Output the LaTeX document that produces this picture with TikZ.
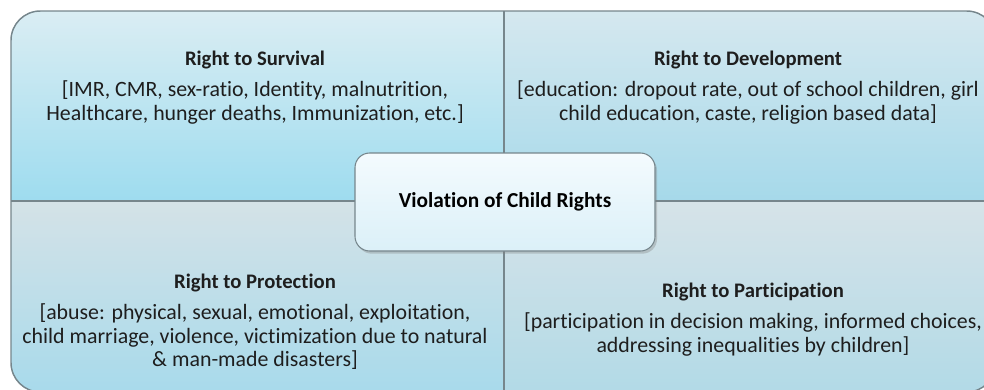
\documentclass[tikz,border=0pt]{standalone}
\usepackage{fontspec}
\setmainfont{Carlito}[Ligatures=NoCommon]
\usetikzlibrary{positioning,shadows}

\definecolor{rimgrey}{HTML}{76868C}
\definecolor{textdark}{HTML}{1E1E1E}
\definecolor{survtop}{HTML}{DAEDF3}
\definecolor{survbot}{HTML}{9EDCEF}
\definecolor{devtop}{HTML}{D5E8EF}
\definecolor{devbot}{HTML}{A6D9EA}
\definecolor{prottop}{HTML}{D4E2E7}
\definecolor{protbot}{HTML}{A8DAEB}
\definecolor{parttop}{HTML}{D6E3E8}
\definecolor{partbot}{HTML}{B2DAE7}
\definecolor{hubtop}{HTML}{F4FBFE}
\definecolor{hubbot}{HTML}{DBF0F8}

\begin{document}
\begin{tikzpicture}[x=0.75pt,y=-0.75pt,
    title/.style={font=\fontsize{15.5}{17.6}\selectfont\bfseries,text=textdark,inner sep=0pt,anchor=base},
    body/.style={font=\fontsize{16.4}{17.6}\selectfont,text=textdark,align=center,inner sep=0pt},
    hub/.style={draw=rimgrey,thick,rounded corners=11pt,top color=hubtop,bottom color=hubbot,
        minimum width=225pt,minimum height=73.5pt,
        drop shadow={opacity=0.35,shadow xshift=1.5pt,shadow yshift=-2pt}},
    divider/.style={draw=rimgrey,line width=1.1pt}]
    \useasboundingbox (0,0) rectangle (984,389);
    \clip (0,0) rectangle (984,389);

    % four quadrants
    \begin{scope}
        \clip[rounded corners=22pt] (11,11) rectangle (996,392);
        \shade[top color=survtop,bottom color=survbot] (11,11) rectangle (504,201);
        \shade[top color=devtop,bottom color=devbot] (504,11) rectangle (996,201);
        \shade[top color=prottop,bottom color=protbot] (11,201) rectangle (504,392);
        \shade[top color=parttop,bottom color=partbot] (504,201) rectangle (996,392);
    \end{scope}
    \draw[divider,rounded corners=22pt] (11,11) rectangle (996,392);
    \coordinate (topmid) at (504,11);
    \coordinate (botmid) at (504,392);
    \coordinate (leftmid) at (11,201);
    \coordinate (rightmid) at (996,201);
    \draw[divider] (topmid) -- (botmid);
    \draw[divider] (leftmid) -- (rightmid);

    \node[title] (survival) at (255,65) {Right to Survival};
    \node[body,below=9pt of survival] (survivaltxt) {[IMR, CMR, sex-ratio, Identity, malnutrition,\\Healthcare, hunger deaths, Immunization, etc.]};

    \node[title] (development) at (748,65) {Right to Development};
    \node[body,below=9pt of development] (developmenttxt) {[education: dropout rate, out of school children, girl\\child education, caste, religion based data]};

    \node[title] (protection) at (255,288) {Right to Protection};
    \node[body,below=9pt of protection] (protectiontxt) {[abuse: physical, sexual, emotional, exploitation,\\child marriage, violence, victimization due to natural\\\& man-made disasters]};

    \node[title] (participation) at (753,297) {Right to Participation};
    \node[body,below=9pt of participation] (participationtxt) {[participation in decision making, informed choices,\\addressing inequalities by children]};

    \node[hub] (violation) at (505,202) {\fontsize{16}{17.6}\selectfont\bfseries Violation of Child Rights};
\end{tikzpicture}
\end{document}
